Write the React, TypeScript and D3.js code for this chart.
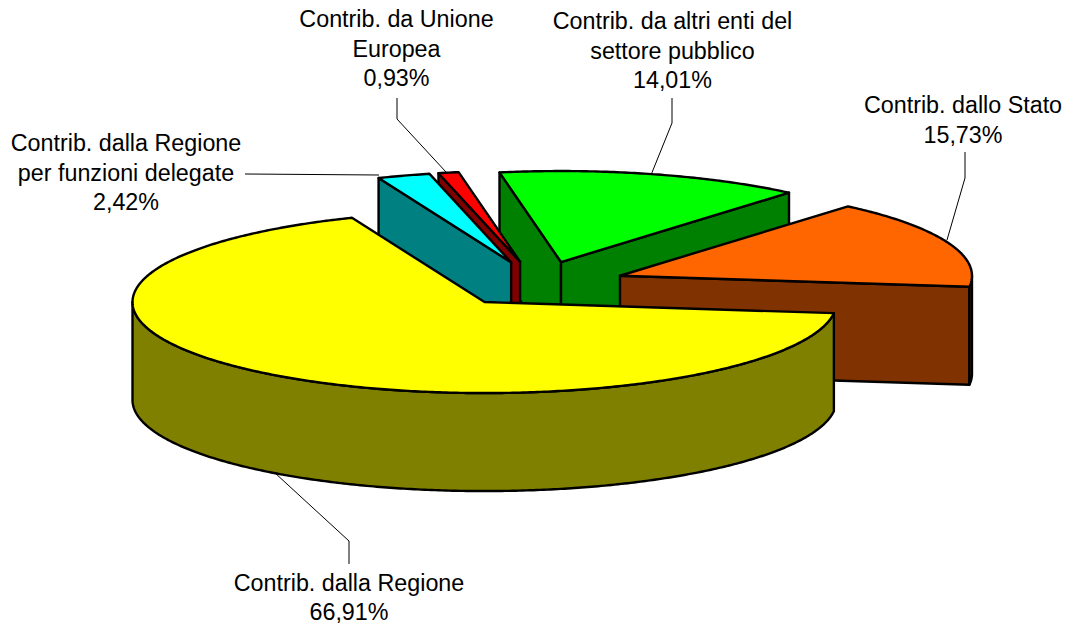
import React from "react";
import * as d3 from "d3";

const labels = [
  ["Contrib. dalla Regione", "66,91%"],
  ["Contrib. dalla Regione", "per funzioni delegate", "2,42%"],
  ["Contrib. da Unione", "Europea", "0,93%"],
  ["Contrib. da altri enti del", "settore pubblico", "14,01%"],
  ["Contrib. dallo Stato", "15,73%"],
];
const values = [66.91, 2.42, 0.93, 14.01, 15.73];
const topColors = ["#FFFF00", "#00FFFF", "#FF0000", "#00FF00", "#FF6600"];
const sideColors = ["#808000", "#008080", "#800000", "#008000", "#803300"];
const drawOrder = [3, 2, 1, 4, 0];
const labelAnchors: [number, number][] = [
  [349, 590.5],
  [126, 151],
  [396.5, 27],
  [672.5, 29],
  [963, 113],
];
const leaders: [number, number][][] = [
  [[349, 564], [349, 541], [275, 473]],
  [[245, 174], [379, 175]],
  [[397, 98], [397, 119], [446, 172]],
  [[672, 98], [672, 123], [651, 175]],
  [[965, 152], [965, 178], [947, 240]],
];

const W = 1066;
const H = 623;
const RX = 352;
const RY = 91;
const DEPTH = 98;
const C0: [number, number] = [538, 284];
const EXPLODE = 0.25;
const START = (97 * Math.PI) / 180;

type P = [number, number];
const line = d3.line<P>();
const pie = d3.pie<number>().sort(null).startAngle(START).endAngle(START + 2 * Math.PI);

const onEllipse = (c: P, a: number, dy = 0): P => [c[0] + RX * Math.sin(a), c[1] - RY * Math.cos(a) + dy];
const arcPts = (c: P, a0: number, a1: number, dy = 0): P[] => {
  const n = Math.max(2, Math.ceil(Math.abs(a1 - a0) / 0.01));
  return d3.range(n + 1).map((i) => onEllipse(c, a0 + ((a1 - a0) * i) / n, dy));
};
const closed = (pts: P[]) => (line(pts) as string) + "Z";

export default function App() {
  const arcs = pie(values);
  const common = { stroke: "#000", strokeWidth: 2.4, strokeLinejoin: "round" as const };
  return (
    <svg width={W} height={H} viewBox={`0 0 ${W} ${H}`} style={{ position: "absolute", left: 0, top: 0, background: "#fff" }}>
      {leaders.map((l, i) => (
        <path key={i} d={line(l) as string} fill="none" stroke="#000" strokeWidth={1} />
      ))}
      {drawOrder.map((i) => {
        const { startAngle: a0, endAngle: a1 } = arcs[i];
        const mid = (a0 + a1) / 2;
        const off = onEllipse([0, 0], mid);
        const c: P = [C0[0] + off[0] * EXPLODE, C0[1] + off[1] * EXPLODE];
        const wall = (a: number) => {
          const p = onEllipse(c, a);
          return closed([c, p, [p[0], p[1] + DEPTH], [c[0], c[1] + DEPTH]]);
        };
        const twoPi = 2 * Math.PI;
        const rimParts: [number, number][] = [];
        for (const k of [0, 1]) {
          const lo = Math.max(a0, Math.PI / 2 + k * twoPi);
          const hi = Math.min(a1, (3 * Math.PI) / 2 + k * twoPi);
          if (hi > lo) rimParts.push([lo, hi]);
        }
        return (
          <g key={i}>
            {Math.sin(a0) < 0 && <path d={wall(a0)} fill={sideColors[i]} {...common} />}
            {Math.sin(a1) > 0 && <path d={wall(a1)} fill={sideColors[i]} {...common} />}
            {rimParts.map(([lo, hi], k) => (
              <path
                key={k}
                d={closed([...arcPts(c, lo, hi), ...arcPts(c, hi, lo, DEPTH)])}
                fill={sideColors[i]}
                {...common}
              />
            ))}
            <path d={closed([c, ...arcPts(c, a0, a1)])} fill={topColors[i]} {...common} />
          </g>
        );
      })}
      {labels.map((ls, i) => (
        <text
          key={i}
          x={labelAnchors[i][0]}
          y={labelAnchors[i][1]}
          textAnchor="middle"
          fontFamily="'Liberation Sans', Arial, sans-serif"
          fontSize={23.3}
          fill="#000"
        >
          {ls.map((t, j) => (
            <tspan key={j} x={labelAnchors[i][0]} dy={j === 0 ? 0 : 29.7}>
              {t}
            </tspan>
          ))}
        </text>
      ))}
    </svg>
  );
}
